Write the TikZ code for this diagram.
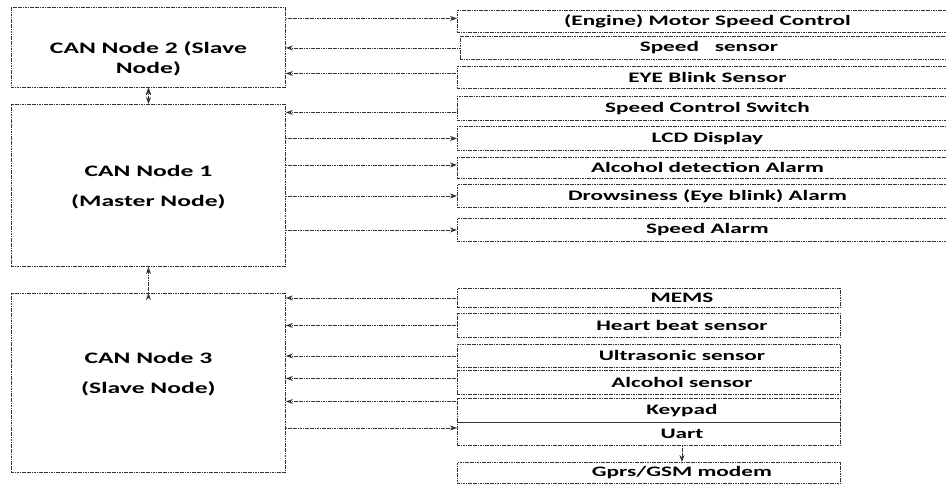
\documentclass[tikz,border=0pt]{standalone}
\usepackage{fontspec}
\newfontfamily\diagfont[FakeStretch=1.6]{Carlito}
\usetikzlibrary{arrows.meta,positioning,calc}

\begin{document}
\begin{tikzpicture}[x=1pt, y=-1pt,
    box/.style={rectangle, draw=black!80, dash pattern=on 1.2pt off 0.5pt, line width=0.9pt, anchor=north west, inner sep=0pt, font=\diagfont\bfseries\fontsize{14.5}{16}\selectfont},
    canbox/.style={box, minimum width=274pt},
    cantxt/.style={align=center, font=\diagfont\bfseries\fontsize{16}{20}\selectfont},
    topbox/.style={box, minimum width=500pt},
    botbox/.style={box, minimum width=383pt, execute at begin node={\hspace*{66pt}}},
    every path/.style={>={Stealth[length=7pt, width=5pt]}},
    link/.style={draw=black!80, dash pattern=on 1.2pt off 0.5pt, line width=0.9pt}
]
    \useasboundingbox (0,0) rectangle (946,485);
    \clip (0,0) rectangle (946,485);

    % CAN nodes
    \node (n2) [canbox, minimum height=80pt, label={[cantxt, yshift=-11pt]center:{CAN Node 2 (Slave\\Node)}}] at (11,7) {};
    \node (n1) [canbox, minimum height=162pt, label={[cantxt, yshift=-2pt]center:{CAN Node 1\\[10pt](Master Node)}}] at (11,104) {};
    \node (n3) [canbox, minimum height=179pt, label={[cantxt, yshift=9pt]center:{CAN Node 3\\[10pt](Slave Node)}}] at (11,293) {};

    % Peripherals of node 2 and node 1
    \node (eng) [topbox, minimum height=22pt] at (457,10) {(Engine) Motor Speed Control};
    \node (ss) [topbox, minimum width=497pt, minimum height=23pt] at (460,36) {Speed \ \ sensor};
    \node (eye) [topbox, minimum height=22pt] at (457,66) {EYE Blink Sensor};
    \node (scs) [topbox, minimum height=24pt] at (457,96) {Speed Control Switch};
    \node (lcd) [topbox, minimum height=24pt] at (457,126) {LCD Display};
    \node (alc) [topbox, minimum height=21pt] at (457,157) {Alcohol detection Alarm};
    \node (drow) [topbox, minimum height=23pt] at (457,184) {Drowsiness (Eye blink) Alarm};
    \node (spa) [topbox, minimum height=23pt] at (457,218) {Speed Alarm};

    % Peripherals of node 3
    \node (mems) [botbox, minimum height=19pt] at (457,288) {MEMS};
    \node (hb) [botbox, minimum height=24pt] at (457,313) {Heart beat sensor};
    \node (us) [botbox, minimum height=23pt] at (457,344) {Ultrasonic sensor};
    \node (als) [botbox, minimum height=24pt] at (457,370) {Alcohol sensor};
    \node (key) [botbox, minimum height=24pt] at (457,398) {Keypad};
    \node (uart) [botbox, minimum height=23pt] at (457,422) {Uart};
    \node (gsm) [botbox, minimum height=21pt] at (457,462) {Gprs/GSM modem};

    % Bus links
    \path [link, <->] (n2.south) edge (n1.north);
    \path [link, ->] (n3.north) edge (n1.south);

    % Node 2 links
    \draw [link, ->] ([yshift=3pt]eng.west -| n2.east) -- ([yshift=3pt]eng.west);
    \draw [link, <-] (ss.west -| n2.east) -- (ss.west);
    \draw [link, <-] ([yshift=4pt]eye.west -| n2.east) -- ([yshift=4pt]eye.west);

    % Node 1 links
    \draw [link, <-] ([yshift=-4pt]scs.west -| n1.east) -- ([yshift=-4pt]scs.west);
    \draw [link, ->] (lcd.west -| n1.east) -- (lcd.west);
    \draw [link, ->] ([yshift=3pt]alc.west -| n1.east) -- ([yshift=3pt]alc.west);
    \draw [link, ->] (drow.west -| n1.east) -- (drow.west);
    \draw [link, ->] (spa.west -| n1.east) -- (spa.west);

    % Node 3 links
    \draw [link, <-] (mems.west -| n3.east) -- (mems.west);
    \draw [link, <-] (hb.west -| n3.east) -- (hb.west);
    \draw [link, <-] (us.west -| n3.east) -- (us.west);
    \draw [link, <-] ([yshift=4pt]als.west -| n3.east) -- ([yshift=4pt]als.west);
    \draw [link, <-] ([yshift=9pt]key.west -| n3.east) -- ([yshift=9pt]key.west);
    \draw [link, ->] ([yshift=6pt]uart.west -| n3.east) -- ([yshift=6pt]uart.west);
    \draw [link, ->] ([xshift=33pt]uart.south) -- ([xshift=33pt]gsm.north);

\end{tikzpicture}
\end{document}
